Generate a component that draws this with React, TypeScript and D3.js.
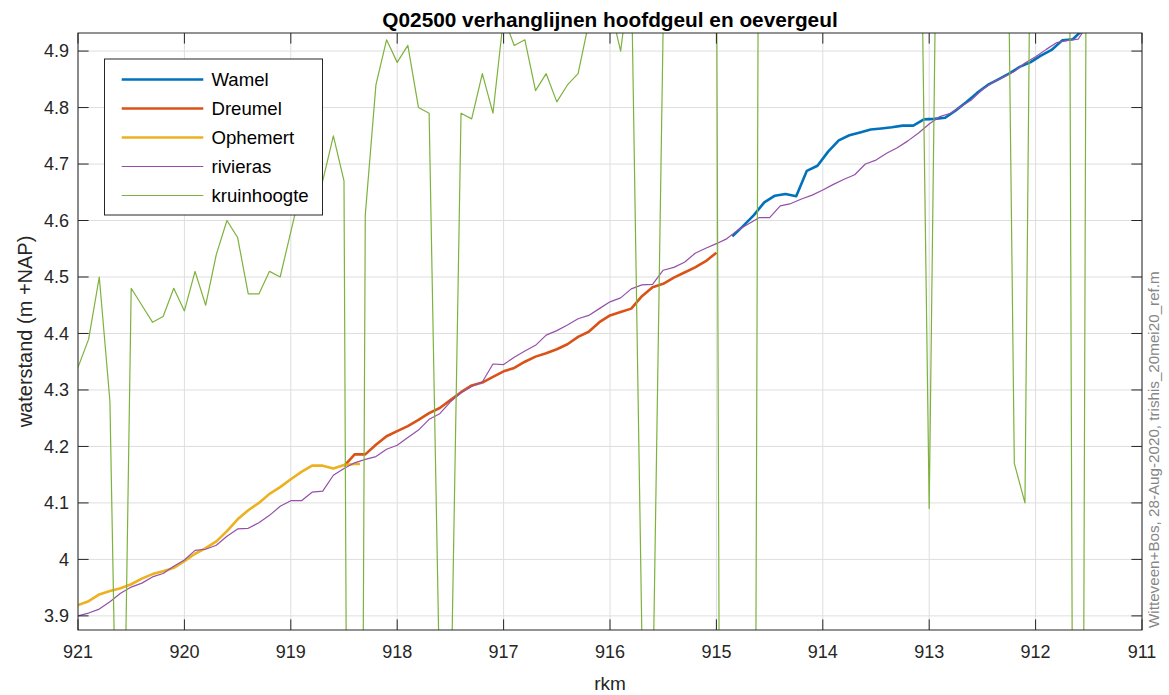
import React from 'react';
import * as d3 from 'd3';

// ---------- data ----------
const xTicks = [921, 920, 919, 918, 917, 916, 915, 914, 913, 912, 911];
const yTicks = [3.9, 4.0, 4.1, 4.2, 4.3, 4.4, 4.5, 4.6, 4.7, 4.8, 4.9];

const wamelRkm = [914.85, 914.75, 914.65, 914.55, 914.45, 914.35, 914.25, 914.15, 914.05, 913.95, 913.85, 913.75, 913.65, 913.55, 913.45, 913.35, 913.25, 913.15, 913.05, 912.95, 912.85, 912.75, 912.65, 912.55, 912.45, 912.35, 912.25, 912.15, 912.05, 911.95, 911.85, 911.75, 911.65, 911.55, 911.45];
const wamelVal = [4.572, 4.590, 4.609, 4.632, 4.644, 4.647, 4.643, 4.688, 4.697, 4.722, 4.742, 4.751, 4.756, 4.761, 4.763, 4.765, 4.768, 4.768, 4.779, 4.780, 4.782, 4.795, 4.810, 4.826, 4.840, 4.850, 4.860, 4.872, 4.880, 4.892, 4.902, 4.919, 4.921, 4.939, 4.960];

const dreumelRkm = [918.5, 918.4, 918.3, 918.2, 918.1, 918.0, 917.9, 917.8, 917.7, 917.6, 917.5, 917.4, 917.3, 917.2, 917.1, 917.0, 916.9, 916.8, 916.7, 916.6, 916.5, 916.4, 916.3, 916.2, 916.1, 916.0, 915.9, 915.8, 915.7, 915.6, 915.5, 915.4, 915.3, 915.2, 915.1, 915.0];
const dreumelVal = [4.165, 4.186, 4.186, 4.203, 4.218, 4.227, 4.236, 4.247, 4.259, 4.268, 4.282, 4.296, 4.308, 4.313, 4.323, 4.333, 4.339, 4.350, 4.359, 4.365, 4.372, 4.381, 4.394, 4.403, 4.420, 4.432, 4.438, 4.444, 4.466, 4.482, 4.488, 4.499, 4.508, 4.517, 4.528, 4.543];

const ophemertRkm = [921.0, 920.9, 920.8, 920.7, 920.6, 920.5, 920.4, 920.3, 920.2, 920.1, 920.0, 919.9, 919.8, 919.7, 919.6, 919.5, 919.4, 919.3, 919.2, 919.1, 919.0, 918.9, 918.8, 918.7, 918.6, 918.5, 918.4, 918.35];
const ophemertVal = [3.919, 3.926, 3.938, 3.944, 3.949, 3.956, 3.966, 3.974, 3.979, 3.985, 3.997, 4.010, 4.020, 4.032, 4.050, 4.071, 4.087, 4.100, 4.116, 4.128, 4.142, 4.155, 4.166, 4.166, 4.161, 4.167, 4.169, 4.169];

const riviRkm = [921.0, 920.9, 920.8, 920.7, 920.6, 920.5, 920.4, 920.3, 920.2, 920.1, 920.0, 919.9, 919.8, 919.7, 919.6, 919.5, 919.4, 919.3, 919.2, 919.1, 919.0, 918.9, 918.8, 918.7, 918.6, 918.5, 918.4, 918.3, 918.2, 918.1, 918.0, 917.9, 917.8, 917.7, 917.6, 917.5, 917.4, 917.3, 917.2, 917.1, 917.0, 916.9, 916.8, 916.7, 916.6, 916.5, 916.4, 916.3, 916.2, 916.1, 916.0, 915.9, 915.8, 915.7, 915.6, 915.5, 915.4, 915.3, 915.2, 915.1, 915.0, 914.9, 914.8, 914.7, 914.6, 914.5, 914.4, 914.3, 914.2, 914.1, 914.0, 913.9, 913.8, 913.7, 913.6, 913.5, 913.4, 913.3, 913.2, 913.1, 913.0, 912.9, 912.8, 912.7, 912.6, 912.5, 912.4, 912.3, 912.2, 912.1, 912.0, 911.9, 911.8, 911.7, 911.6, 911.5];
const riviVal = [3.900, 3.905, 3.912, 3.925, 3.940, 3.951, 3.958, 3.969, 3.975, 3.988, 3.999, 4.016, 4.018, 4.025, 4.041, 4.054, 4.055, 4.065, 4.078, 4.094, 4.104, 4.104, 4.119, 4.121, 4.149, 4.161, 4.171, 4.177, 4.182, 4.195, 4.202, 4.216, 4.229, 4.248, 4.258, 4.279, 4.295, 4.306, 4.314, 4.346, 4.345, 4.358, 4.369, 4.379, 4.397, 4.405, 4.415, 4.426, 4.432, 4.444, 4.456, 4.463, 4.479, 4.486, 4.487, 4.512, 4.517, 4.526, 4.542, 4.551, 4.559, 4.568, 4.583, 4.594, 4.605, 4.605, 4.626, 4.630, 4.638, 4.645, 4.654, 4.664, 4.673, 4.681, 4.700, 4.707, 4.719, 4.729, 4.741, 4.755, 4.771, 4.784, 4.790, 4.802, 4.814, 4.832, 4.845, 4.854, 4.864, 4.879, 4.890, 4.903, 4.915, 4.919, 4.921, 4.950];

const kruinRkm = [921.0, 920.9, 920.8, 920.7, 920.6, 920.5, 920.4, 920.3, 920.2, 920.1, 920.0, 919.9, 919.8, 919.7, 919.6, 919.5, 919.4, 919.3, 919.2, 919.1, 919.0, 918.9, 918.8, 918.7, 918.6, 918.5, 918.4, 918.3, 918.2, 918.1, 918.0, 917.9, 917.8, 917.7, 917.6, 917.5, 917.4, 917.3, 917.2, 917.1, 917.0, 916.9, 916.8, 916.7, 916.6, 916.5, 916.4, 916.3, 916.2, 916.1, 916.0, 915.9, 915.8, 915.7, 915.6, 915.5, 915.4, 915.3, 915.2, 915.1, 915.0, 914.9, 914.8, 914.7, 914.6, 914.5, 914.4, 914.3, 914.2, 914.1, 914.0, 913.9, 913.8, 913.7, 913.6, 913.5, 913.4, 913.3, 913.2, 913.1, 913.0, 912.9, 912.8, 912.7, 912.6, 912.5, 912.4, 912.3, 912.2, 912.1, 912.0, 911.9, 911.8, 911.7, 911.6, 911.5, 911.4];
const kruinVal = [4.34, 4.39, 4.50, 4.28, 3.25, 4.48, 4.45, 4.42, 4.43, 4.48, 4.44, 4.51, 4.45, 4.54, 4.60, 4.57, 4.47, 4.47, 4.51, 4.50, 4.58, 4.66, 4.70, 4.67, 4.75, 4.67, 0.70, 4.61, 4.84, 4.92, 4.88, 4.91, 4.80, 4.79, 3.76, 3.69, 4.79, 4.78, 4.86, 4.79, 4.96, 4.91, 4.92, 4.83, 4.86, 4.81, 4.84, 4.86, 4.95, 5.00, 4.98, 4.90, 5.05, 3.86, 3.73, 4.95, 5.02, 5.05, 5.08, 5.10, 5.15, 0.00, 0.00, 0.00, 5.40, 5.40, 5.42, 5.45, 5.45, 5.47, 5.47, 5.48, 5.48, 5.50, 5.50, 5.50, 5.50, 5.48, 5.47, 5.47, 4.09, 5.64, 5.65, 5.66, 5.70, 5.72, 5.75, 5.78, 4.17, 4.10, 6.15, 6.10, 6.10, 6.08, 1.00, 6.42, 6.40];

const seriesNames = ['Wamel', 'Dreumel', 'Ophemert', 'rivieras', 'kruinhoogte'];
const seriesColors = ['#0072BD', '#D95319', '#EDB120', '#9450A8', '#7DB23C'];
const seriesWidths = [2.6, 2.6, 2.6, 1.2, 1.2];

const titleText = 'Q02500 verhanglijnen hoofdgeul en oevergeul';
const xLabelText = 'rkm';
const yLabelText = 'waterstand (m +NAP)';
const stampText = 'Witteveen+Bos, 28-Aug-2020, trishis_20mei20_ref.m';

// ---------- component ----------
const W = 1169;
const H = 695;
const L = 78, R = 1142, T = 33, B = 630;
const FONT = '"Liberation Sans", Arial, Helvetica, sans-serif';
const AX = '#262626';

export default function App() {
  const x = d3.scaleLinear().domain([921, 911]).range([L, R]);
  const y = d3.scaleLinear().domain([3.875, 4.932]).range([B, T]);
  const line = d3.line<[number, number]>().x(d => x(d[0])).y(d => y(d[1]));

  const series: [number, number][][] = [
    wamelRkm.map((r, i) => [r, wamelVal[i]] as [number, number]),
    dreumelRkm.map((r, i) => [r, dreumelVal[i]] as [number, number]),
    ophemertRkm.map((r, i) => [r, ophemertVal[i]] as [number, number]),
    riviRkm.map((r, i) => [r, riviVal[i]] as [number, number]),
    kruinRkm.map((r, i) => [r, kruinVal[i]] as [number, number]),
  ];

  const tickLen = 10.6;
  const fmtY = (v: number) => d3.format('~g')(v);

  const lgX = 104.5, lgY = 59, lgW = 218, lgH = 156;
  const rowY0 = 79.5, rowDy = 29;

  return (
    <svg width={W} height={H} style={{ position: 'absolute', left: 0, top: 0, background: '#fff' }}
      fontFamily={FONT}>
      <defs>
        <clipPath id="plotClip">
          <rect x={L} y={T} width={R - L} height={B - T} />
        </clipPath>
      </defs>
      <rect x={0} y={0} width={W} height={H} fill="#fff" />
      <g stroke="#dedede" strokeWidth={1}>
        {xTicks.map(t => (
          <line key={'gx' + t} x1={x(t)} x2={x(t)} y1={T} y2={B} />
        ))}
        {yTicks.map(t => (
          <line key={'gy' + t} x1={L} x2={R} y1={y(t)} y2={y(t)} />
        ))}
      </g>
      <g clipPath="url(#plotClip)" fill="none" strokeLinejoin="round">
        {series.map((s, i) => (
          <path key={seriesNames[i]} d={line(s) || ''} stroke={seriesColors[i]} strokeWidth={seriesWidths[i]} />
        ))}
      </g>
      <rect x={L} y={T} width={R - L} height={B - T} fill="none" stroke={AX} strokeWidth={1} />
      <g stroke={AX} strokeWidth={1}>
        {xTicks.map(t => (
          <g key={'tx' + t}>
            <line x1={x(t)} x2={x(t)} y1={B} y2={B - tickLen} />
            <line x1={x(t)} x2={x(t)} y1={T} y2={T + tickLen} />
          </g>
        ))}
        {yTicks.map(t => (
          <g key={'ty' + t}>
            <line x1={L} x2={L + tickLen} y1={y(t)} y2={y(t)} />
            <line x1={R} x2={R - tickLen} y1={y(t)} y2={y(t)} />
          </g>
        ))}
      </g>
      <g fill={AX} fontSize={18}>
        {xTicks.map(t => (
          <text key={'lx' + t} x={x(t)} y={652} dy="0.35em" textAnchor="middle">{t}</text>
        ))}
        {yTicks.map(t => (
          <text key={'ly' + t} x={69} y={y(t)} dy="0.35em" textAnchor="end">{fmtY(t)}</text>
        ))}
      </g>
      <text x={(L + R) / 2} y={27} textAnchor="middle" fontWeight="bold" fontSize={20.8} fill="#000">{titleText}</text>
      <text x={(L + R) / 2} y={683} dy="0.35em" textAnchor="middle" fontSize={19} fill={AX}>{xLabelText}</text>
      <text transform={`translate(32,${(T + B) / 2}) rotate(-90)`} textAnchor="middle" fontSize={20} fill={AX}>{yLabelText}</text>
      <text transform={`translate(1159,628) rotate(-90)`} textAnchor="start" fontSize={15.2} fill="#868686">{stampText}</text>
      <g>
        <rect x={lgX} y={lgY} width={lgW} height={lgH} fill="#fff" stroke={AX} strokeWidth={1} />
        {seriesNames.map((n, i) => (
          <g key={'lg' + n}>
            <line x1={121.7} x2={203.3} y1={rowY0 + i * rowDy} y2={rowY0 + i * rowDy}
              stroke={seriesColors[i]} strokeWidth={seriesWidths[i]} />
            <text x={211.5} y={rowY0 + i * rowDy} dy="0.35em" fontSize={18.6} fill="#000">{n}</text>
          </g>
        ))}
      </g>
    </svg>
  );
}
